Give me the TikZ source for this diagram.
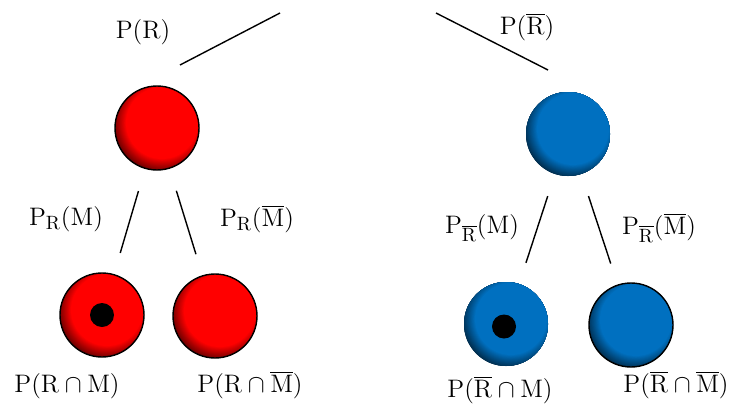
\documentclass[tikz,border=0pt]{standalone}
\usepackage{tikz}
\usetikzlibrary{positioning,calc}

\definecolor{ballred}{RGB}{255,0,0}
\definecolor{ballblue}{RGB}{0,112,192}

\begin{document}
\begin{tikzpicture}[
        every node/.style={font=\fontsize{15}{18}\selectfont},
        ball/.style={circle, minimum size=1.68cm, inner sep=0pt, fill=ball#1!40!black,
            path picture={
                \foreach \k in {0,...,15} {
                    \pgfmathsetmacro\rr{0.99-0.018*\k}
                    \pgfmathtruncatemacro\pp{40+4*\k}
                    \fill[ball#1!\pp!black] ($(path picture bounding box.center)+(0.1,0.1)$) circle (\rr cm);
                }
            }},
        redball/.style={ball=red, draw=black, line width=0.8pt},
        blueball/.style={ball=blue},
        dot/.style={circle, fill=black, minimum size=0.48cm, inner sep=0pt},
        branch/.style={line width=0.8pt, shorten <=0.46cm, shorten >=0.44cm},
    ]
        \useasboundingbox (0,0) rectangle (14.72,8.10);

        % first level
        \coordinate (topL) at (5.60,7.84);
        \coordinate (endL) at (3.60,6.80);
        \coordinate (topR) at (8.72,7.84);
        \coordinate (endR) at (10.96,6.70);
        \draw[line width=0.8pt] (topL) -- (endL);
        \draw[line width=0.8pt] (topR) -- (endR);
        \node (pR) at (2.86,7.46) {$\mathrm{P(R)}$};
        \node (pRb) at (10.54,7.56) {$\mathrm{P(\overline{R})}$};

        \node[redball] (R) at (3.14,5.54) {};
        \node[blueball] (B) at (11.36,5.42) {};

        % second level
        \node[redball] (RM) at (2.04,1.80) {};
        \node[dot] (dotRM) at (RM) {};
        \node[redball] (RMb) at (4.30,1.78) {};
        \node[blueball] (BM) at (10.12,1.62) {};
        \node[dot] (dotBM) at ($(BM)+(-0.04,-0.05)$) {};
        \node[blueball, draw=black, line width=0.8pt] (BMb) at (12.62,1.60) {};

        \draw[branch] (R) -- (RM);
        \draw[branch] (R) -- (RMb);
        \draw[branch] (B) -- (BM);
        \draw[branch] (B) -- (BMb);

        \node (pRM) at (1.32,3.72) {$\mathrm{P_{R}(M)}$};
        \node (pRMb) at (5.14,3.72) {$\mathrm{P_{R}(\overline{M})}$};
        \node (pBM) at (9.64,3.54) {$\mathrm{P_{\overline{R}}(M)}$};
        \node (pBMb) at (13.18,3.54) {$\mathrm{P_{\overline{R}}(\overline{M})}$};

        \node (iRM) at (1.34,0.38) {$\mathrm{P(R\cap M)}$};
        \node (iRMb) at (5.00,0.40) {$\mathrm{P(R\cap \overline{M})}$};
        \node (iBM) at (10.00,0.30) {$\mathrm{P(\overline{R}\cap M)}$};
        \node (iBMb) at (13.52,0.40) {$\mathrm{P(\overline{R}\cap \overline{M})}$};
\end{tikzpicture}
\end{document}
